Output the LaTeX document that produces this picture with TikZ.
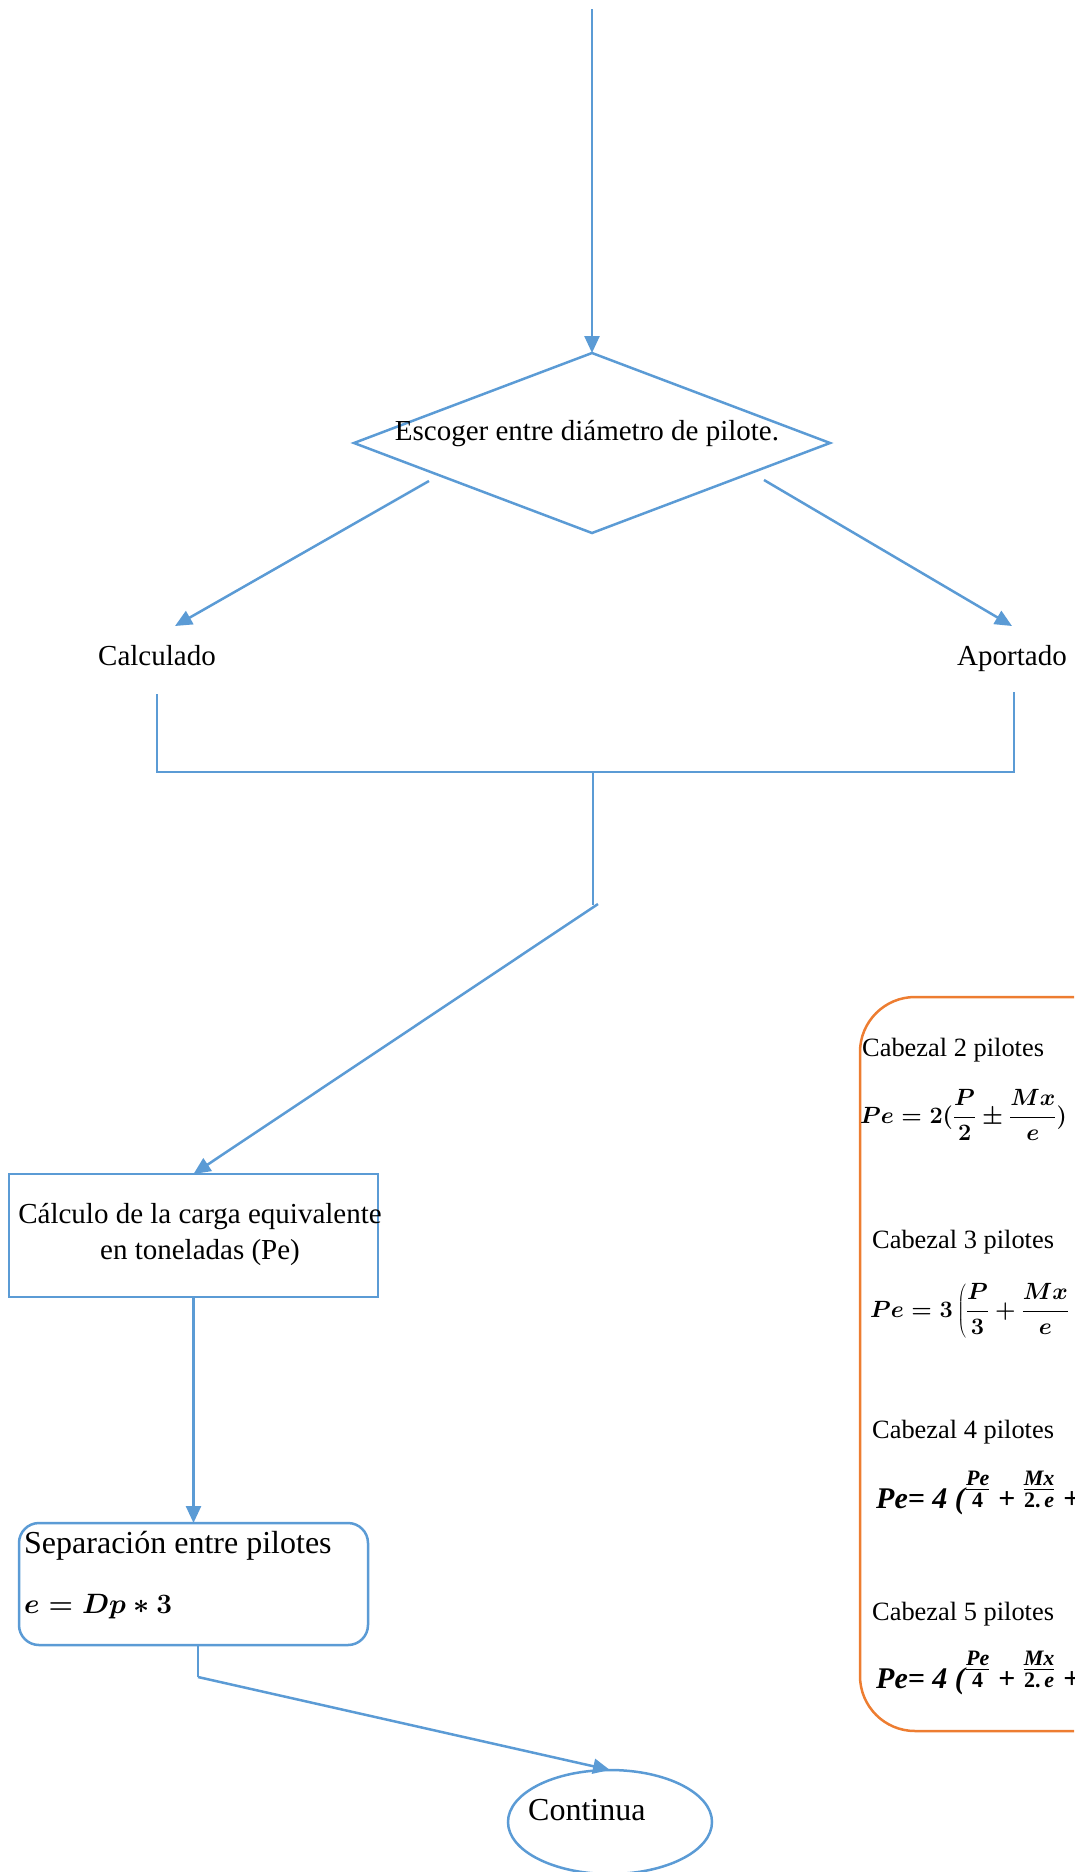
\RequirePackage{fix-cm}
\documentclass[tikz,border=0pt]{standalone}
\usepackage{fontspec}
\setmainfont{Liberation Serif}
\usetikzlibrary{arrows.meta,shapes.geometric}
\definecolor{flowblue}{RGB}{91,155,213}
\definecolor{floworange}{RGB}{237,125,49}
\newcommand{\fracfont}{\fontsize{22}{22}\selectfont\bfseries}
\newcommand{\pilefrac}[2]{\raisebox{11pt}{$\frac{\mbox{\fracfont #1}}{\mbox{\fracfont #2}}$}}

\begin{document}
\begin{tikzpicture}[x=1pt,y=-1pt,
  line/.style={draw=flowblue,line width=2.5pt},
  thinline/.style={draw=flowblue,line width=1.4pt},
  arr/.style={line,-{Triangle[length=17pt,width=15pt]}},
  shapebox/.style={draw=flowblue,line width=2.5pt,inner sep=0pt,outer sep=0pt},
  lbl/.style={inner sep=0pt,font=\fontsize{29}{35}\selectfont},
  biglbl/.style={anchor=base west,inner sep=0pt,font=\fontsize{32}{38}\selectfont},
  cab/.style={anchor=base west,inner sep=0pt,font=\fontsize{26.4}{30}\selectfont},
  eqn/.style={anchor=base west,inner sep=0pt,font=\fontsize{23.5}{30}\selectfont\boldmath},
  eqb/.style={anchor=base west,inner sep=0pt,font=\fontsize{30}{34}\selectfont\bfseries\itshape},
]
\useasboundingbox (0,0) rectangle (1074,1872);
\clip (0,0) rectangle (1074,1872);

% decision
\node[shapebox,diamond,minimum width=476pt,minimum height=180pt] (dec) at (592,443) {};
\node[lbl,anchor=base] (dectext) at (587,440) {Escoger entre diámetro de pilote.};
\coordinate (topin) at (592,9);
\draw[arr] (topin) -- (dec.north);

% the two branches
\node[lbl,anchor=base] (calc) at (157,665) {Calculado};
\node[lbl,anchor=base] (apor) at (1012,665) {Aportado};
\coordinate (lstart) at (429,481);
\coordinate (ltip) at (175,626);
\coordinate (rstart) at (764,480);
\coordinate (rtip) at (1012,626);
\draw[arr] (lstart) -- (ltip);
\draw[arr] (rstart) -- (rtip);

% joining bracket
\coordinate (bl) at (157,694);
\coordinate (br) at (1014,692);
\coordinate (bj) at (593,772);
\coordinate (bd) at (593,905);
\draw[thinline] (bl) |- (bj) -| (br);
\draw[thinline] (bj) -- (bd);
\coordinate (dstart) at (598,904);

% equivalent load
\node[shapebox,minimum width=369pt,minimum height=123pt] (calcbox) at (193.5,1235.5) {};
\node[lbl,anchor=base] (calc1) at (200,1223) {Cálculo de la carga equivalente};
\node[lbl,anchor=base] (calc2) at (200,1259) {en toneladas (Pe)};
\draw[arr] (dstart) -- (calcbox.north);

% pile spacing
\node[shapebox,rounded corners=20pt,minimum width=349pt,minimum height=122pt] (sepbox) at (193.5,1584) {};
\node[biglbl] (sep1) at (24,1553) {Separación entre pilotes};
\node[eqn,font=\fontsize{28}{32}\selectfont\boldmath] (sep2) at (24,1613) {$e = Dp \ast 3$};
\draw[arr] (calcbox.south) -- (sepbox.north);

% continue
\node[shapebox,ellipse,minimum width=204pt,minimum height=104pt] (cont) at (610,1822) {};
\node[biglbl] (conttext) at (528,1820) {Continua};
\coordinate (s1) at (198,1645);
\coordinate (s2) at (198,1677);
\draw[thinline] (s1) -- (s2);
\draw[arr] (s2) -- (cont.north);

% pile caps
\node[draw=floworange,line width=2.5pt,rounded corners=55pt,inner sep=0pt,
      minimum width=300pt,minimum height=734pt] (caps) at (1010,1364) {};
\node[cab] (c2) at (862,1056) {Cabezal 2 pilotes};
\node[eqn] (f2) at (860,1123) {$\displaystyle Pe = 2(\frac{P}{2} \pm \frac{Mx}{e})$};
\node[cab] (c3) at (872,1248) {Cabezal 3 pilotes};
\node[eqn] (f3) at (870,1317) {$\displaystyle Pe = 3\left(\frac{P}{3} + \frac{Mx}{e} +{}\right.$};
\node[cab] (c4) at (872,1438) {Cabezal 4 pilotes};
\node[eqb] (f4) at (876,1508) {Pe= 4 (\pilefrac{Pe}{\upshape 4} + \pilefrac{Mx}{\upshape 2.\,\itshape e} +};
\node[cab] (c5) at (872,1620) {Cabezal 5 pilotes};
\node[eqb] (f5) at (876,1688) {Pe= 4 (\pilefrac{Pe}{\upshape 4} + \pilefrac{Mx}{\upshape 2.\,\itshape e} +};
\end{tikzpicture}
\end{document}
